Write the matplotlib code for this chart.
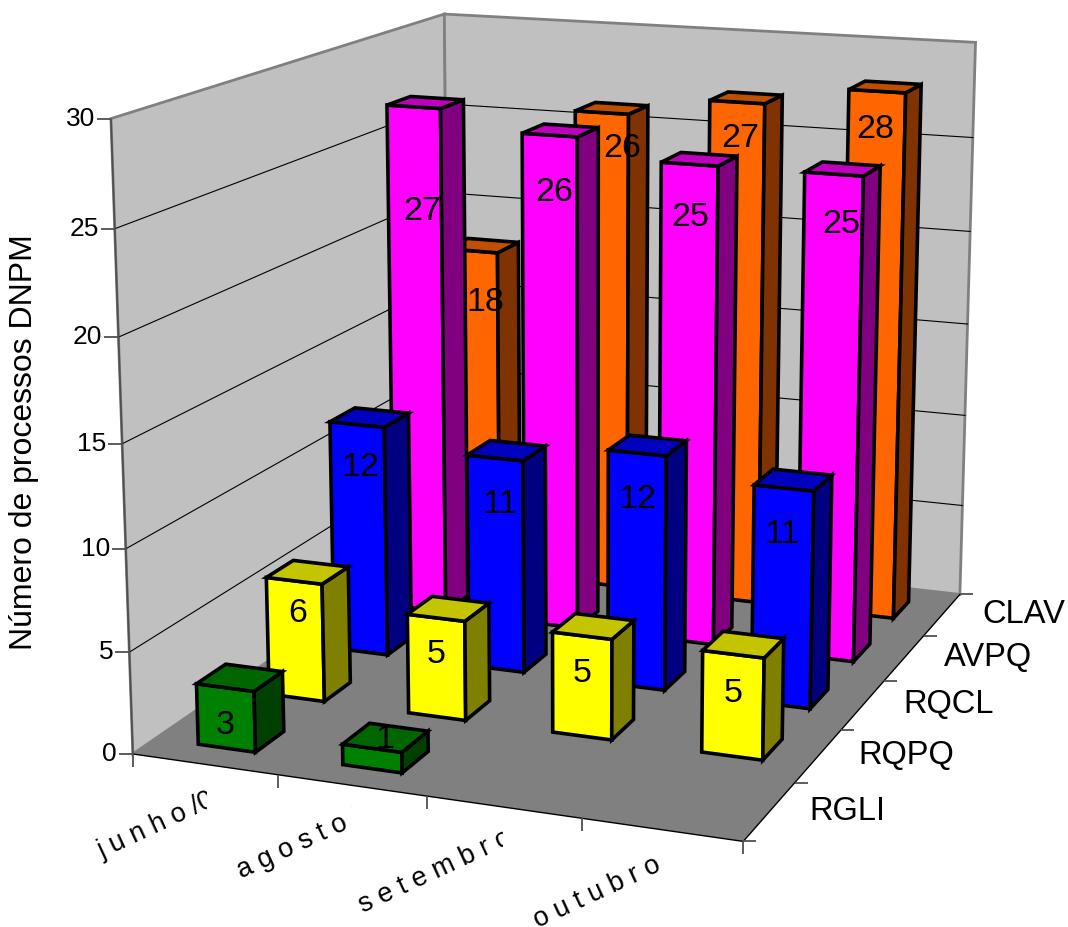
import numpy as np
import matplotlib
matplotlib.use("Agg")
import matplotlib.pyplot as plt
from matplotlib.patches import Polygon
from matplotlib.transforms import Bbox, TransformedBbox

plt.rcParams["font.family"] = ["Liberation Sans", "DejaVu Sans"]

months = ["j u n h o /0", "a g o s t o /", "s e t e m b r o", "o u t u b r o"]
series = ["RGLI", "RQPQ", "RQCL", "AVPQ", "CLAV"]
z_ticks = [0, 5, 10, 15, 20, 25, 30]

rgli = [3, 1, np.nan, np.nan]
rqpq = [6, 5, 5, 5]
rqcl = [12, 11, 12, 11]
avpq = [27, 26, 25, 25]
clav = [18, 26, 27, 28]
values = [rgli, rqpq, rqcl, avpq, clav]

# front, top, side colours per series
front_colors = ["#008000", "#FFFF00", "#0000FF", "#FF00FF", "#FF6600"]
top_colors = ["#006600", "#C4C400", "#0000BF", "#BF00BF", "#C05000"]
side_colors = ["#004000", "#808000", "#000080", "#800080", "#803300"]

# label shift from the top of each bar's front face, in pixels
label_dx = [[0, 13, 0, 0], [4, 0, 0, 0], [3, 5, 0, -2], [9, 5, 1, 7], [13, 20, 3, -2]]
label_dy = [[38, -9, 0, 0], [33, 37, 38, 39], [43, 46, 47, 47], [105, 57, 53, 50], [52, 36, 36, 38]]

# box corners and ticks (category, series, count) against their place on the canvas
calib_world = np.array([
    (0, 0, 0), (4, 0, 0), (4, 5, 0), (0, 0, 30), (0, 5, 30), (4, 5, 30),
    (1, 0, 0), (2, 0, 0), (3, 0, 0), (4, 1, 0), (4, 2, 0), (4, 3, 0), (4, 4, 0),
    (0, 0, 5), (0, 0, 25), (4, 5, 25), (4, 5, 20),
], dtype=float)
calib_pixel = np.array([
    (133, 754), (743, 841), (960, 593), (111, 118), (444, 14), (977, 42),
    (277, 775), (427, 797), (582, 818), (795, 783), (842, 729), (883, 681), (925, 637),
    (130, 652), (115, 229), (972, 138), (969, 232),
], dtype=float)

BAR_HALF = 0.2
EDGE = 2.6


def fit_projection(world, pixel):
    rows, rhs = [], []
    for (x, y, z), (u, v) in zip(world, pixel):
        rows.append([x, y, z, 1, 0, 0, 0, 0, -u * x, -u * y, -u * z])
        rows.append([0, 0, 0, 0, x, y, z, 1, -v * x, -v * y, -v * z])
        rhs += [u, v]
    p = np.linalg.lstsq(np.array(rows), np.array(rhs), rcond=None)[0]
    return np.append(p, 1).reshape(3, 4)


P = fit_projection(calib_world, calib_pixel)


def project(x, y, z):
    u, v, w = P @ np.array([x, y, z, 1.0])
    return u / w, v / w


def face(ax, corners, color, **kw):
    pts = [project(*c) for c in corners]
    ax.add_patch(Polygon(pts, closed=True, facecolor=color, **kw))


def draw_box(ax):
    nx, ny, nz = len(months), len(series), z_ticks[-1]
    wall = dict(edgecolor="#808080", linewidth=2.0, joinstyle="miter", zorder=0.1)
    face(ax, [(0, 0, 0), (0, ny, 0), (0, ny, nz), (0, 0, nz)], "#C0C0C0", **wall)
    face(ax, [(0, ny, 0), (nx, ny, 0), (nx, ny, nz), (0, ny, nz)], "#C0C0C0", **wall)

    for t in z_ticks[1:-1]:
        pts = [project(0, 0, t), project(0, ny, t), project(nx, ny, t)]
        ax.plot(*zip(*pts), color="black", lw=0.8, solid_joinstyle="miter", zorder=0.2)

    face(ax, [(0, 0, 0), (nx, 0, 0), (nx, ny, 0), (0, ny, 0)], "#808080", edgecolor="none", zorder=0.3)
    front = [project(0, 0, 0), project(nx, 0, 0), project(nx, ny, 0)]
    ax.plot(*zip(*front), color="black", lw=1.0, zorder=0.4)


def draw_ticks(ax):
    nx, ny = len(months), len(series)
    tick = dict(color="#505050", lw=1.3, solid_capstyle="butt")

    ax.plot(*zip(project(0, 0, 0), project(0, 0, z_ticks[-1])), **tick)
    for t in z_ticks:
        u, v = project(0, 0, t)
        ax.plot([u - 14, u], [v, v], **tick)
        ax.text(u - 16, v, str(t), ha="right", va="center", fontsize=19, color="black")

    for i in range(nx + 1):
        u, v = project(i, 0, 0)
        ax.plot([u, u], [v, v + 13], **tick)
    for j in range(ny + 1):
        u, v = project(nx, j, 0)
        ax.plot([u, u + 13], [v, v], **tick)

    for j, name in enumerate(series):
        u, v = project(nx, j + 0.5, 0)
        ax.text(u + 40, v, name, ha="left", va="center", fontsize=23.5, color="black")

    # the first three month labels are cut off around the middle of their category
    starts = [(-105, 88), (-113, 87), (-144, 99), (-127, 92)]
    clip_pad = [2, 0, -1, 30]
    for i, name in enumerate(months):
        u, v = project(i + 0.5, 0, 0)
        txt = ax.text(u + starts[i][0], v + starts[i][1], name, ha="left", va="center",
                      rotation=25, rotation_mode="anchor", fontsize=19.5, color="black")
        txt.set_clip_box(TransformedBbox(Bbox([[0, 0], [u + clip_pad[i], 927]]), ax.transData))
        txt.set_clip_on(True)


def draw_bar(ax, i, j, value):
    x0, x1 = i + 0.5 - BAR_HALF, i + 0.5 + BAR_HALF
    y0, y1 = j + 0.5 - BAR_HALF, j + 0.5 + BAR_HALF
    style = dict(edgecolor="black", linewidth=EDGE, joinstyle="miter")
    face(ax, [(x0, y0, 0), (x1, y0, 0), (x1, y0, value), (x0, y0, value)], front_colors[j], **style)
    face(ax, [(x1, y0, 0), (x1, y1, 0), (x1, y1, value), (x1, y0, value)], side_colors[j], **style)
    face(ax, [(x0, y0, value), (x1, y0, value), (x1, y1, value), (x0, y1, value)], top_colors[j], **style)

    u, v = project(i + 0.5, y0, value)
    ax.text(u + label_dx[j][i], v + label_dy[j][i], f"{value:g}", ha="center", va="center",
            fontsize=24.5, color="black")


def main():
    fig = plt.figure(figsize=(10.68, 9.27), dpi=100)
    ax = fig.add_axes([0, 0, 1, 1])
    ax.set_xlim(0, 1068)
    ax.set_ylim(927, 0)
    ax.axis("off")

    draw_box(ax)
    draw_ticks(ax)

    # back row first so nearer bars paint over it
    for j in reversed(range(len(series))):
        for i in range(len(months)):
            if not np.isnan(values[j][i]):
                draw_bar(ax, i, j, values[j][i])

    ax.text(24, 442, "Número de processos DNPM", rotation=90, ha="center", va="center",
            fontsize=23, color="black")

    fig.savefig("out.png", dpi=100)


if __name__ == "__main__":
    main()
